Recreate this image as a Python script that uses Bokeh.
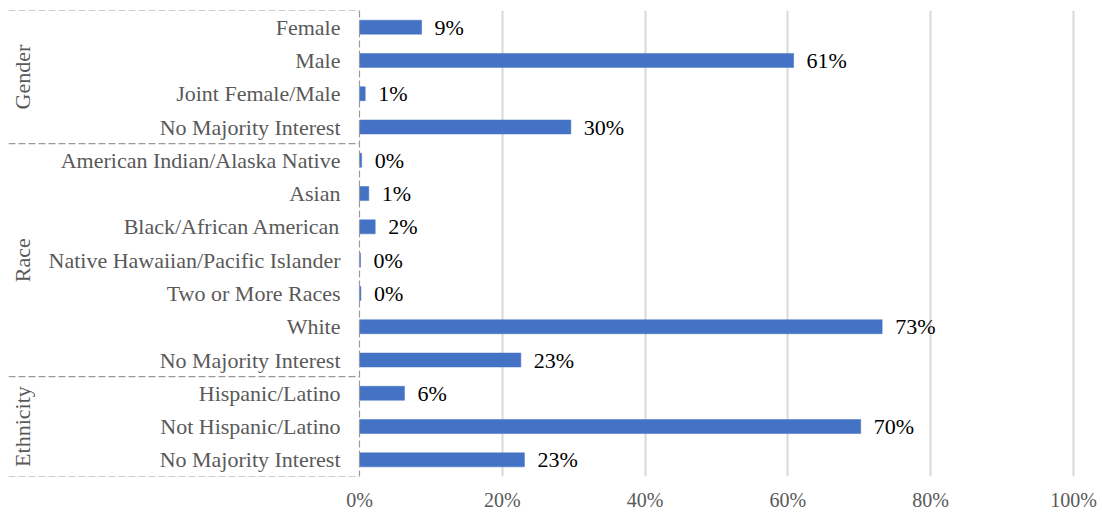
import math
from bokeh.plotting import figure
from bokeh.models import Range1d, FixedTicker, PrintfTickFormatter, ColumnDataSource
from bokeh.core.properties import value
from bokeh.embed import file_html
from bokeh.resources import INLINE

# ---- data ----
categories = ["Female", "Male", "Joint Female/Male", "No Majority Interest",
              "American Indian/Alaska Native", "Asian", "Black/African American",
              "Native Hawaiian/Pacific Islander", "Two or More Races", "White",
              "No Majority Interest",
              "Hispanic/Latino", "Not Hispanic/Latino", "No Majority Interest"]
values = [8.7, 60.8, 0.8, 29.6, 0.3, 1.3, 2.2, 0.15, 0.2, 73.2, 22.6, 6.3, 70.2, 23.1]
value_labels = ["9%", "61%", "1%", "30%", "0%", "1%", "2%", "0%", "0%", "73%", "23%",
                "6%", "70%", "23%"]
groups = ["Gender", "Race", "Ethnicity"]
group_sizes = [4, 7, 3]
x_ticks = [0, 20, 40, 60, 80, 100]

# ---- layout ----
FONT = "Liberation Serif"
FS = "22px"
W, H = 1102, 513
B_LEFT, B_RIGHT, B_TOP, B_BOTTOM = 8, 8, 10, 35
frame_w = W - B_LEFT - B_RIGHT
zero_px = 351              # pixel of 0% measured from frame left
px_per_unit = 7.14         # pixels per 1%
x_start = -zero_px / px_per_unit
x_end = x_start + frame_w / px_per_unit
n = len(categories)

p = figure(width=W, height=H, output_backend="svg", toolbar_location=None,
           x_range=Range1d(x_start, x_end), y_range=Range1d(n, 0),
           min_border_left=B_LEFT, min_border_right=B_RIGHT, min_border_top=B_TOP,
           min_border_bottom=B_BOTTOM)
p.outline_line_color = None
p.background_fill_color = "white"
p.border_fill_color = "white"

# axes
p.yaxis.visible = False
xa = p.xaxis[0]
xa.ticker = FixedTicker(ticks=x_ticks)
xa.formatter = PrintfTickFormatter(format="%d%%")
xa.axis_line_color = None
xa.major_tick_line_color = None
xa.minor_tick_line_color = None
xa.major_tick_out = 0
xa.major_tick_in = 0
xa.major_label_standoff = 12
xa.major_label_text_font = FONT
xa.major_label_text_font_size = "20px"
xa.major_label_text_color = "#595959"

p.ygrid.visible = False
p.xgrid.ticker = FixedTicker(ticks=[t for t in x_ticks if t > 0])
p.xgrid.grid_line_color = "#d9d9d9"
p.xgrid.grid_line_width = 2

# bars
ys = [i + 0.5 for i in range(n)]
src = ColumnDataSource(dict(y=ys, v=values, cat=categories, lab=value_labels))
p.hbar(y="y", right="v", left=0, height=0.42, source=src,
       fill_color="#4472C4", line_color="#4472C4", line_width=0.5)

# value labels
p.text(x="v", y="y", text="lab", source=src, x_offset=13,
       text_align="left", text_baseline="middle",
       text_font=value(FONT), text_font_size=FS, text_color="#000000")

# category labels
p.text(x=0, y="y", text="cat", source=src, x_offset=-19,
       text_align="right", text_baseline="middle",
       text_font=value(FONT), text_font_size=FS, text_color="#595959")

# group separators and labels
bounds = [0]
for s in group_sizes:
    bounds.append(bounds[-1] + s)
dash_col = "#9a9a9a"
p.segment(x0=[x_start] * len(bounds), x1=[0] * len(bounds), y0=bounds, y1=bounds,
          line_color=dash_col, line_width=1.2, line_dash="7 3")
p.segment(x0=[0], x1=[0], y0=[0], y1=[n], line_color=dash_col, line_width=1.2,
          line_dash="7 3")
centers = [(bounds[i] + bounds[i + 1]) / 2 for i in range(len(groups))]
p.text(x=[x_start] * len(groups), y=centers, text=groups, x_offset=14,
       angle=math.pi / 2, text_align="center", text_baseline="middle",
       text_font=value(FONT), text_font_size=FS, text_color="#595959")

open("out.html", "w").write(file_html(p, INLINE))
